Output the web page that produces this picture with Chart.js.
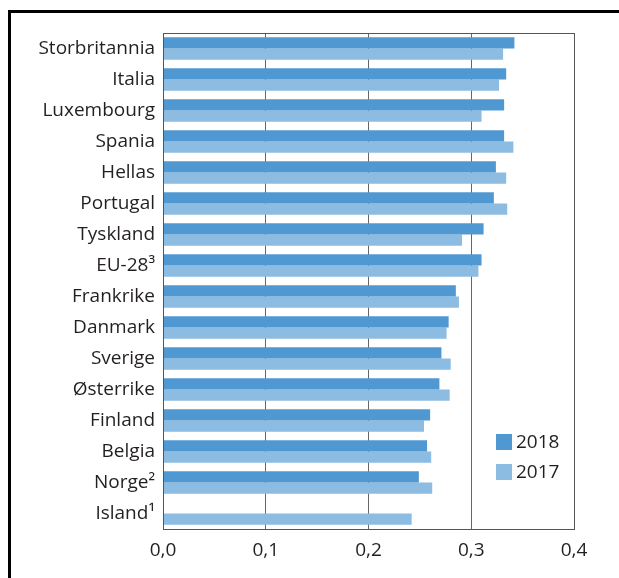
<!DOCTYPE html>
<html lang="no">

<head>
    <meta charset="UTF-8">
    <title>Horizontal bar</title>
    <style>
        body { margin: 0; background: #fff; }
        #wrap { position: relative; width: 619px; height: 578px; }
        #frame {
            position: absolute; left: 8px; top: 10px; right: -10px; bottom: -10px;
            border-top: 3px solid #000; border-left: 3px solid #000;
            pointer-events: none;
        }
    </style>
</head>

<script src="https://cdn.jsdelivr.net/npm/chart.js"></script>

<body>
    <div id="wrap">
        <canvas id="BarChart1" width="619" height="578"></canvas>
        <div id="frame"></div>
    </div>
</body>
<script>
    const labels = ['Storbritannia', 'Italia', 'Luxembourg', 'Spania', 'Hellas', 'Portugal', 'Tyskland', 'EU-28³',
        'Frankrike', 'Danmark', 'Sverige', 'Østerrike', 'Finland', 'Belgia', 'Norge²', 'Island¹'];

    const values2018 = [0.342, 0.334, 0.332, 0.332, 0.324, 0.322, 0.312, 0.310,
        0.285, 0.278, 0.271, 0.269, 0.260, 0.257, 0.249, null];
    const values2017 = [0.331, 0.327, 0.310, 0.341, 0.334, 0.335, 0.291, 0.307,
        0.288, 0.276, 0.280, 0.279, 0.254, 0.261, 0.262, 0.242];

    const xTicks = [0, 0.1, 0.2, 0.3, 0.4];

    const FONT = '"Open Sans", sans-serif';

    const data = {
        labels: labels,
        datasets: [{
            label: '2018',
            data: values2018,
            backgroundColor: '#5098d2',
            borderWidth: 0,
            categoryPercentage: 0.72,
            barPercentage: 1.0,
        }, {
            label: '2017',
            data: values2017,
            backgroundColor: '#8dbce2',
            borderWidth: 0,
            categoryPercentage: 0.72,
            barPercentage: 1.0,
        }],
    };

    // legend inside the plot, bottom right
    const boxLegend = {
        id: 'boxLegend',
        afterDraw(chart) {
            const ctx = chart.ctx;
            const area = chart.chartArea;
            const x = area.right - 78;
            let y = area.bottom - 95;
            ctx.save();
            ctx.font = '19px ' + FONT;
            ctx.textBaseline = 'middle';
            chart.data.datasets.forEach(ds => {
                ctx.fillStyle = ds.backgroundColor;
                ctx.fillRect(x, y, 16, 16);
                ctx.fillStyle = '#231f20';
                ctx.fillText(ds.label, x + 20, y + 9);
                y += 30;
            });
            ctx.restore();
        }
    };

    // box round the plot area
    const plotFrame = {
        id: 'plotFrame',
        afterDatasetsDraw(chart) {
            const ctx = chart.ctx;
            const a = chart.chartArea;
            ctx.save();
            ctx.strokeStyle = '#555';
            ctx.lineWidth = 1;
            ctx.strokeRect(a.left + 0.5, a.top + 0.5, a.right - a.left, a.bottom - a.top);
            ctx.restore();
        }
    };

    const config = {
        type: 'bar',
        data: data,
        options: {
            indexAxis: 'y',
            responsive: false,
            animation: false,
            layout: { padding: { top: 33, right: 45, bottom: 0, left: 0 } },
            plugins: {
                legend: { display: false },
                tooltip: { enabled: false },
            },
            scales: {
                x: {
                    min: 0,
                    max: 0.4,
                    afterBuildTicks: s => { s.ticks = xTicks.map(v => ({ value: v })); },
                    afterFit: s => { s.height = 49; },
                    grid: { color: '#666', lineWidth: 1, drawTicks: false },
                    border: { display: false },
                    ticks: {
                        padding: 10,
                        color: '#231f20',
                        font: { family: FONT, size: 19 },
                        callback: v => v.toFixed(1).replace('.', ','),
                    },
                },
                y: {
                    afterFit: s => { s.width = 163; },
                    grid: { display: false, drawTicks: false },
                    border: { display: false },
                    ticks: {
                        padding: 8,
                        color: '#231f20',
                        font: { family: FONT, size: 19 },
                    },
                },
            },
        },
        plugins: [boxLegend, plotFrame],
    };

    const chart1 = new Chart(document.getElementById('BarChart1'), config);
</script>

</html>
